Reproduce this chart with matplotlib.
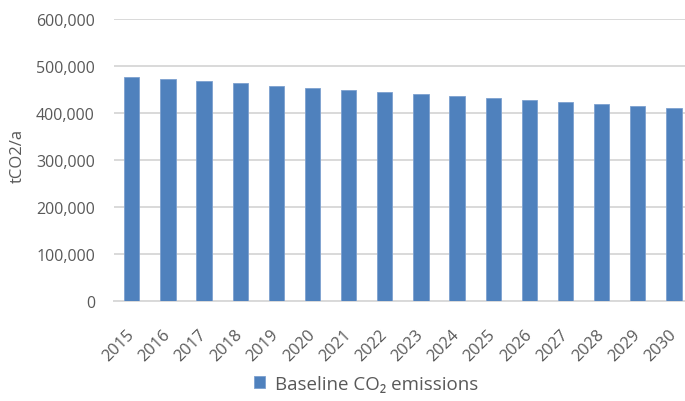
import matplotlib
matplotlib.use("Agg")
import matplotlib.pyplot as plt
from matplotlib.ticker import FuncFormatter, MultipleLocator

plt.rcParams['font.family'] = ['Open Sans', 'DejaVu Sans']

years = [str(y) for y in range(2015, 2031)]
emissions = [477900, 472300, 468000, 463800, 458700, 454500, 449600, 445300,
             441000, 436200, 431900, 427700, 423400, 419100, 414900, 410600]
series_label = "Baseline CO\u2082 emissions"
y_label = "tCO2/a"

bar_color = "#4f81bd"
grid_color = "#d9d9d9"
text_color = "#595959"

W, H = 685, 402
fig = plt.figure(figsize=(W / 100, H / 100), dpi=100)
left, right = 113.7 / W, 692.0 / W
bottom, top = (H - 302.3) / H, (H - 20.3) / H
ax = fig.add_axes([left, bottom, right - left, top - bottom])

x = list(range(len(years)))
bars = ax.bar(x, emissions, width=0.42, color=bar_color, edgecolor="#7da0cf",
              linewidth=0.6, label=series_label, zorder=3)

ax.set_xlim(-0.5, len(years) - 0.5)
ax.set_ylim(0, 600000)
ax.yaxis.set_major_locator(MultipleLocator(100000))
ax.yaxis.set_major_formatter(FuncFormatter(lambda v, p: f"{int(v):,}"))
ax.grid(axis="y", color=grid_color, linewidth=1.4, zorder=0)
ax.set_axisbelow(True)

for s in ["top", "right", "left"]:
    ax.spines[s].set_visible(False)
ax.spines["bottom"].set_color(grid_color)
ax.spines["bottom"].set_linewidth(1.4)

ax.tick_params(axis="y", length=0, pad=13.5, labelsize=11.5, labelcolor=text_color)
ax.tick_params(axis="x", length=0, pad=22, labelsize=11.8, labelcolor=text_color)
ax.set_xticks(x)
ax.set_xticklabels(years, rotation=45, ha="right", va="center",
                   rotation_mode="anchor")

ax.set_ylabel(y_label, fontsize=12, color=text_color)
ax.yaxis.set_label_coords(-0.152, 0.52)

fig.legend(handles=[bars], labels=[series_label], loc="center",
           bbox_to_anchor=(366 / W, (H - 385) / H), frameon=False,
           fontsize=13.5, handlelength=0.6, handleheight=0.6,
           handletextpad=0.5, labelcolor=text_color)

fig.savefig("out.png", dpi=100)
